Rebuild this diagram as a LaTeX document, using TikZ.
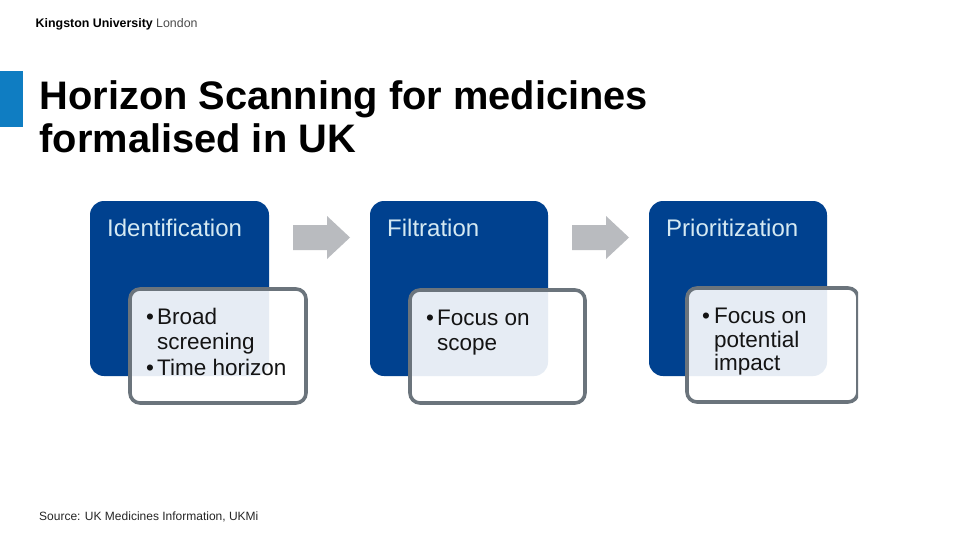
\documentclass[tikz,border=0pt]{standalone}
\usepackage{fontspec}
\setmainfont{Liberation Sans}
\definecolor{kblue}{HTML}{00418F}
\definecolor{kbar}{HTML}{0F7DC2}
\definecolor{kgrey}{HTML}{6B747C}
\definecolor{karrow}{HTML}{B9BBBF}
\definecolor{klabel}{HTML}{D5E9F2}
\tikzset{
  back/.style={fill=kblue,rounded corners=14pt},
  front/.style={draw=kgrey,line width=3.6pt,fill=white,fill opacity=.9,rounded corners=10pt},
  head/.style={text=klabel,font=\fontsize{24}{28}\selectfont,anchor=base west,inner sep=0pt},
  item/.style={text=black!92,font=\fontsize{22.5}{25}\selectfont,anchor=base west,inner sep=0pt},
  flow/.style={fill=karrow},
  title/.style={font=\bfseries\fontsize{39.8}{43}\selectfont,anchor=base west,inner sep=0pt,text=black}
}
\newcommand{\flowarrow}[1]{\fill[flow] (#1,225) -- ++(34,0) -- ++(0,-9) -- ++(23,21.5) -- ++(-23,21.5) -- ++(0,-9) -- ++(-34,0) -- cycle;}
\begin{document}
\begin{tikzpicture}[x=1pt,y=-1pt]
\useasboundingbox (0,0) rectangle (960,540);
\fill[white] (0,0) rectangle (960,540);
\node[anchor=base west,inner sep=0pt,font=\bfseries\fontsize{12.4}{14}\selectfont] (logoa) at (35.5,28) {Kingston University};
\node[anchor=base west,inner sep=0pt,font=\fontsize{12.4}{14}\selectfont,text=black!70] (logob) at (156,28) {London};
\fill[kbar] (0,71) rectangle (23,127);
\node[title] (t1) at (39.5,110) {Horizon Scanning for medicines};
\node[title] (t2) at (39.5,153) {formalised in UK};
% column 1
\fill[back] (90,201) rectangle (269,376);
\draw[front] (130,289) rectangle (306,403);
\node[head] (h1) at (107,236.5) {Identification};
\node[item] (b1) at (146,324) {•};
\node[item] (i1) at (157,324) {Broad};
\node[item] (i1b) at (157,349) {screening};
\node[item] (b1c) at (146,375) {•};
\node[item] (i1c) at (157,375) {Time horizon};
\flowarrow{293}
% column 2
\fill[back] (370,201) rectangle (548,376);
\draw[front] (410,290) rectangle (585,403);
\node[head] (h2) at (387,236.5) {Filtration};
\node[item] (b2) at (426,325) {•};
\node[item] (i2) at (437,325) {Focus on};
\node[item] (i2b) at (437,350) {scope};
\flowarrow{572}
% column 3
\fill[back] (649,201) rectangle (827,376);
\begin{scope}
\clip (680,280) rectangle (858,410);
\draw[front] (687,288) rectangle (858,402);
\end{scope}
\node[head] (h3) at (666,236.5) {Prioritization};
\node[item] (b3) at (702,323) {•};
\node[item] (i3) at (714,323) {Focus on};
\node[item] (i3b) at (714,347) {potential};
\node[item] (i3c) at (714,370) {impact};
\node[anchor=base west,inner sep=0pt,font=\fontsize{12}{14}\selectfont,text=black!85] (src) at (39,520) {Source: UK Medicines Information, UKMi};
\end{tikzpicture}
\end{document}
